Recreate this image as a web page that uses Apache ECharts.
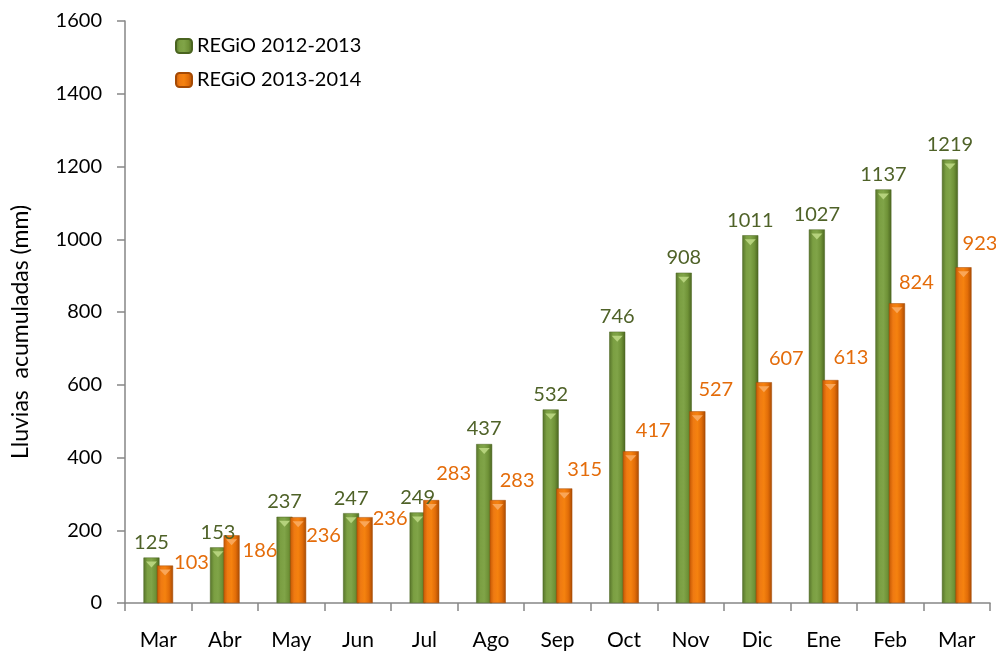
<!DOCTYPE html>
<html>
<head>
<meta charset="utf-8">
<script src="https://cdn.jsdelivr.net/npm/echarts@6/dist/echarts.min.js"></script>
<style>
  html, body { margin: 0; padding: 0; background: #fff; }
  #chart { width: 996px; height: 652px; }
</style>
</head>
<body>
<div id="chart"></div>
<script>
let months = ["Mar", "Abr", "May", "Jun", "Jul", "Ago", "Sep", "Oct", "Nov", "Dic", "Ene", "Feb", "Mar"];
let regio1213 = [125, 153, 237, 247, 249, 437, 532, 746, 908, 1011, 1027, 1137, 1219];
let regio1314 = [103, 186, 236, 236, 283, 283, 315, 417, 527, 607, 613, 824, 923];
let seriesNames = ["REGiO 2012-2013", "REGiO 2013-2014"];

// hand placed orange labels (offset from the bar's top right corner)
let orangeLabelDx = [1, 3, 0, 0, -3, -6, -5, -3, -7, -3, -5, -6, -9];
let orangeLabelDy = [-3, 15, 18, 1, -27, -20, -19, -21, -22, -24, -22, -21, -24];

let font = "Lato";
let green = "#4f6228";
let orange = "#e46c0a";

let grad = (stops) => new echarts.graphic.LinearGradient(0, 0, 1, 0,
  stops.map((c, i) => ({ offset: i / (stops.length - 1), color: c })));
let greenFill = grad(["#56732a", "#7b9f42", "#80a448", "#6f9237", "#4b6620"]);
let orangeFill = grad(["#c45805", "#ef7a12", "#f5820f", "#e26d08", "#a94b03"]);

let chart = echarts.init(document.getElementById("chart"), null, { renderer: "canvas" });

let barLayout = { barWidth: 16, barGap: "-15%", barCategoryGap: "50%" };

let option = {
  animation: false,
  textStyle: { fontFamily: font },
  grid: { left: 125, right: 6, top: 21, bottom: 49 },
  legend: {
    data: seriesNames,
    orient: "vertical",
    left: 170,
    top: 31,
    itemWidth: 16,
    itemHeight: 14,
    itemGap: 14,
    textStyle: { fontFamily: font, fontSize: 20, color: "#000" },
  },
  graphic: [
    {
      type: "text",
      x: 21,
      y: 332,
      rotation: Math.PI / 2,
      style: {
        text: "Lluvias  acumuladas (mm)",
        font: "23px " + font,
        fill: "#000",
        align: "center",
        verticalAlign: "middle",
      },
    },
  ],
  xAxis: {
    type: "category",
    data: months,
    axisLine: { lineStyle: { color: "#868686", width: 1.5 } },
    axisTick: { show: true, length: 8, lineStyle: { color: "#868686", width: 1.5 } },
    axisLabel: { margin: 27, fontSize: 21, color: "#000", fontFamily: font },
  },
  yAxis: {
    type: "value",
    min: 0,
    max: 1600,
    interval: 200,
    axisLine: { show: true, lineStyle: { color: "#868686", width: 1.5 } },
    axisTick: { show: true, length: 8, lineStyle: { color: "#868686", width: 1.5 } },
    splitLine: { show: false },
    axisLabel: {
      margin: 23,
      fontSize: 20,
      color: "#000",
      fontFamily: font,
      formatter: (v) => String(v),
    },
  },
  series: [
    Object.assign({
      name: seriesNames[0],
      type: "bar",
      data: regio1213,
      itemStyle: { color: greenFill, borderColor: "#4a6420", borderWidth: 0.5 },
      label: {
        show: true,
        position: "top",
        distance: 5,
        color: green,
        fontSize: 20,
        fontFamily: font,
      },
    }, barLayout),
    Object.assign({
      name: seriesNames[1],
      type: "bar",
      data: regio1314.map((v, i) => ({
        value: v,
        label: { offset: [orangeLabelDx[i], orangeLabelDy[i]] },
      })),
      itemStyle: { color: orangeFill, borderColor: "#a54a04", borderWidth: 0.5 },
      label: {
        show: true,
        position: ["100%", 0],
        align: "left",
        verticalAlign: "middle",
        color: orange,
        fontSize: 20,
        fontFamily: font,
      },
    }, barLayout),
    // light bevel caps on the bar tops
    Object.assign({
      type: "pictorialBar",
      data: regio1213,
      symbol: "triangle",
      symbolRotate: 180,
      symbolSize: [11, 6],
      symbolPosition: "end",
      symbolOffset: [0, 4],
      itemStyle: { color: "#b5d27c" },
      silent: true,
      z: 3,
    }, barLayout),
    Object.assign({
      type: "pictorialBar",
      data: regio1314,
      symbol: "triangle",
      symbolRotate: 180,
      symbolSize: [11, 6],
      symbolPosition: "end",
      symbolOffset: [0, 4],
      itemStyle: { color: "#f9a658" },
      silent: true,
      z: 3,
    }, barLayout),
  ],
};
chart.setOption(option);
</script>
</body>
</html>
